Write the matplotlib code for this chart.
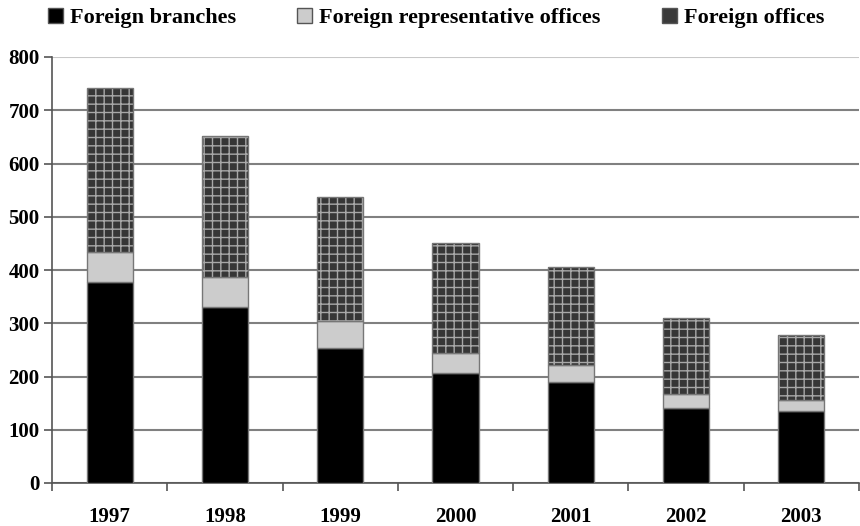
import matplotlib
matplotlib.use("Agg")
import matplotlib.pyplot as plt
from matplotlib.patches import Patch
import numpy as np

years = ["1997", "1998", "1999", "2000", "2001", "2002", "2003"]
branches = [377, 330, 254, 207, 190, 141, 135]
rep_offices = [57, 57, 51, 37, 32, 26, 21]
offices = [308, 265, 233, 206, 184, 142, 121]
yticks = [0, 100, 200, 300, 400, 500, 600, 700, 800]

plt.rcParams['font.family'] = ['Liberation Serif', 'DejaVu Serif']
plt.rcParams['font.weight'] = 'bold'
plt.rcParams['hatch.linewidth'] = 1.0

fig = plt.figure(figsize=(8.6, 5.26), dpi=100)
ax = fig.add_axes([52/860, (526-483)/526, (859-52)/860, (483-57)/526])

x = np.arange(len(years))
w = 0.4
b = np.array(branches)
r = np.array(rep_offices)
o = np.array(offices)

ax.bar(x, b, w, color='#000000', edgecolor='#777777', linewidth=1, zorder=3)
ax.bar(x, r, w, bottom=b, color='#cccccc', edgecolor='#777777', linewidth=1, zorder=3)
ax.bar(x, o, w, bottom=b + r, color='#363636', edgecolor='#a8a8a8', hatch='++', linewidth=0, zorder=3)
ax.bar(x, o, w, bottom=b + r, fill=False, edgecolor='#777777', linewidth=1, zorder=4)

ax.set_xlim(-0.5, len(years) - 0.5)
ax.set_ylim(0, 800)
ax.set_yticks(yticks)
ax.set_yticklabels([str(v) for v in yticks], fontsize=15, fontweight='bold')
ax.set_xticks(x)
ax.set_xticklabels(years, fontsize=15, fontweight='bold')
ax.tick_params(axis='x', length=0, pad=17)
ax.set_xticks(np.arange(len(years) + 1) - 0.5, minor=True)
ax.tick_params(axis='x', which='minor', length=6, width=1.2, color='#555555', direction='out')
ax.tick_params(axis='y', length=6, width=1.2, color='#555555', pad=3)

ax.yaxis.grid(True, color='#808080', linewidth=1.5, zorder=0)
ax.set_axisbelow(True)
gl = ax.yaxis.get_gridlines()
gl[-1].set_color('#c8c8c8')
for s in ['top', 'right']:
    ax.spines[s].set_visible(False)
ax.spines['left'].set_color('#555555')
ax.spines['left'].set_linewidth(1.2)
ax.spines['bottom'].set_color('#555555')
ax.spines['bottom'].set_linewidth(1.2)

handles = [
    Patch(facecolor='#000000', edgecolor='#555555', label='Foreign branches'),
    Patch(facecolor='#cccccc', edgecolor='#555555', label='Foreign representative offices'),
    Patch(facecolor='#3a3a3a', edgecolor='#555555', label='Foreign offices'),
]
fig.legend(handles=handles, loc='center', bbox_to_anchor=(436/860, 1 - 18/526), ncol=3,
           frameon=False, handlelength=0.68, handleheight=0.68,
           handletextpad=0.31, columnspacing=2.75, prop={'weight': 'bold', 'size': 16})

fig.savefig("out.png", dpi=100)
